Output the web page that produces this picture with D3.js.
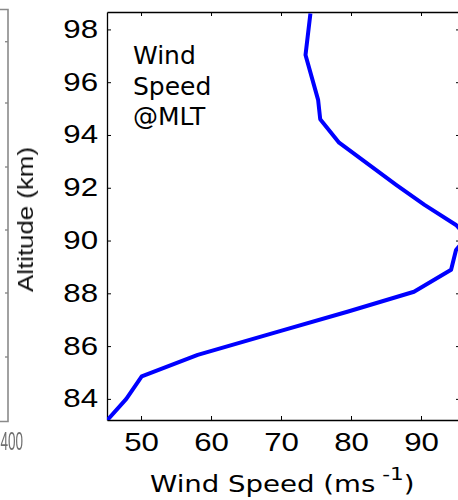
<!DOCTYPE html>
<html>
<head>
<meta charset="utf-8">
<script src="https://cdn.jsdelivr.net/npm/d3@7"></script>
<style>
  html, body { margin: 0; padding: 0; background: #fff; }
  svg { display: block; }
</style>
</head>
<body>
<svg id="chart" width="458" height="500"></svg>
<script>
// Wind speed profile in the mesosphere / lower thermosphere
const windSpeed = [45.2, 47.9, 50.1, 58.1, 69.6, 79.6, 89.0, 94.3, 95.0, 96.6, 95.0, 90.5, 86.5, 78.3, 75.6, 75.3, 73.5, 74.2];
const altitudeKm = [83.2, 84.0, 84.85, 85.67, 86.55, 87.31, 88.06, 88.89, 89.64, 90.15, 90.59, 91.35, 92.1, 93.71, 94.6, 95.33, 97.03, 98.6];
const speedTicks = [50, 60, 70, 80, 90];
const altitudeTicks = [84, 86, 88, 90, 92, 94, 96, 98];
const neighbourTicksY = [41.7, 103, 167, 230, 293, 357];
const annotationLines = ["Wind", "Speed", "@MLT"];

const svg = d3.select("#chart");
const plot = { left: 107, top: 12, right: 460, bottom: 420 };

const x = d3.scaleLinear().domain([45.14, 95.57]).range([plot.left, plot.right]);
const y = d3.scaleLinear().domain([83.2, 98.66]).range([plot.bottom, plot.top]);

// soft blur for the neighbouring panel edge
const defs = svg.append("defs");
defs.append("filter").attr("id", "soft")
  .append("feGaussianBlur").attr("stdDeviation", 0.7);
defs.append("clipPath").attr("id", "plotClip")
  .append("rect")
  .attr("x", plot.left).attr("y", plot.top)
  .attr("width", plot.right - plot.left).attr("height", plot.bottom - plot.top);

// edge of the neighbouring panel on the left
const nb = svg.append("g").attr("filter", "url(#soft)");
nb.append("path")
  .attr("d", "M0,9.5H8V421.5H0")
  .attr("fill", "none").attr("stroke", "#8a8a8a").attr("stroke-width", 1.6);
nb.selectAll("line.nt").data(neighbourTicksY).join("line")
  .attr("x1", 5).attr("x2", 8).attr("y1", d => d).attr("y2", d => d)
  .attr("stroke", "#8a8a8a").attr("stroke-width", 1.4);
nb.append("text")
  .attr("transform", "translate(23,450) scale(0.52,1)")
  .attr("text-anchor", "end")
  .attr("font-family", "Liberation Sans, Arial, sans-serif")
  .attr("font-size", 26).attr("fill", "#6e6e6e")
  .text("400");

// y axis title
svg.append("text")
  .attr("transform", "translate(33,219.5) rotate(-90)")
  .attr("text-anchor", "middle")
  .attr("font-family", "Liberation Sans, Arial, sans-serif")
  .attr("font-size", 22).attr("fill", "#111")
  .attr("textLength", 145).attr("lengthAdjust", "spacingAndGlyphs")
  .attr("filter", "url(#soft)")
  .text("Altitude (km)");

// axes: ticks point inward on all four sides
const tickFont = g => g.selectAll("text")
  .attr("font-family", "Liberation Sans, Arial, sans-serif")
  .attr("font-size", 25).attr("fill", "#000");

const gx = svg.append("g").attr("transform", `translate(0,${plot.bottom})`)
  .call(d3.axisBottom(x).tickValues(speedTicks).tickSize(-4).tickSizeOuter(0).tickPadding(13));
gx.call(tickFont);
gx.selectAll("text").attr("transform", "scale(1.25,1)");

const gy = svg.append("g").attr("transform", `translate(${plot.left},0)`)
  .call(d3.axisLeft(y).tickValues(altitudeTicks).tickSize(-4).tickSizeOuter(0));
gy.call(tickFont);
gy.selectAll("text").attr("x", -9 / 1.25).attr("transform", "scale(1.25,1)");

svg.append("g").attr("transform", `translate(0,${plot.top})`)
  .call(d3.axisTop(x).tickValues(speedTicks).tickSize(-4).tickSizeOuter(0).tickFormat(""));
svg.append("g").attr("transform", `translate(${plot.right},0)`)
  .call(d3.axisRight(y).tickValues(altitudeTicks).tickSize(-4).tickSizeOuter(0).tickFormat(""));

svg.selectAll(".domain").attr("stroke", "#000").attr("stroke-width", 1.3);
svg.selectAll(".tick line").attr("stroke", "#000").attr("stroke-width", 1);

// x axis title with superscript unit
const xt = svg.append("text")
  .attr("transform", "translate(150,492) scale(1.2,1)")
  .attr("font-family", "DejaVu Sans, Verdana, sans-serif")
  .attr("font-size", 23).attr("fill", "#000");
xt.append("tspan").text("Wind Speed (ms");
xt.append("tspan").attr("font-size", 18).attr("dy", -12).text(" -1");
xt.append("tspan").attr("dy", 12).text(")");

// profile line
const profile = windSpeed.map((s, i) => ({ s, a: altitudeKm[i] }));
svg.append("path")
  .datum(profile)
  .attr("clip-path", "url(#plotClip)")
  .attr("fill", "none")
  .attr("stroke", "#0000ff")
  .attr("stroke-width", 4)
  .attr("stroke-linejoin", "round")
  .attr("d", d3.line().x(d => x(d.s)).y(d => y(d.a)));

// in-plot annotation
svg.append("g").selectAll("text").data(annotationLines).join("text")
  .attr("x", 133)
  .attr("y", (d, i) => [63.5, 95, 124.5][i])
  .attr("font-family", "DejaVu Sans, Verdana, sans-serif")
  .attr("font-size", 25).attr("fill", "#000")
  .text(d => d);
</script>
</body>
</html>
